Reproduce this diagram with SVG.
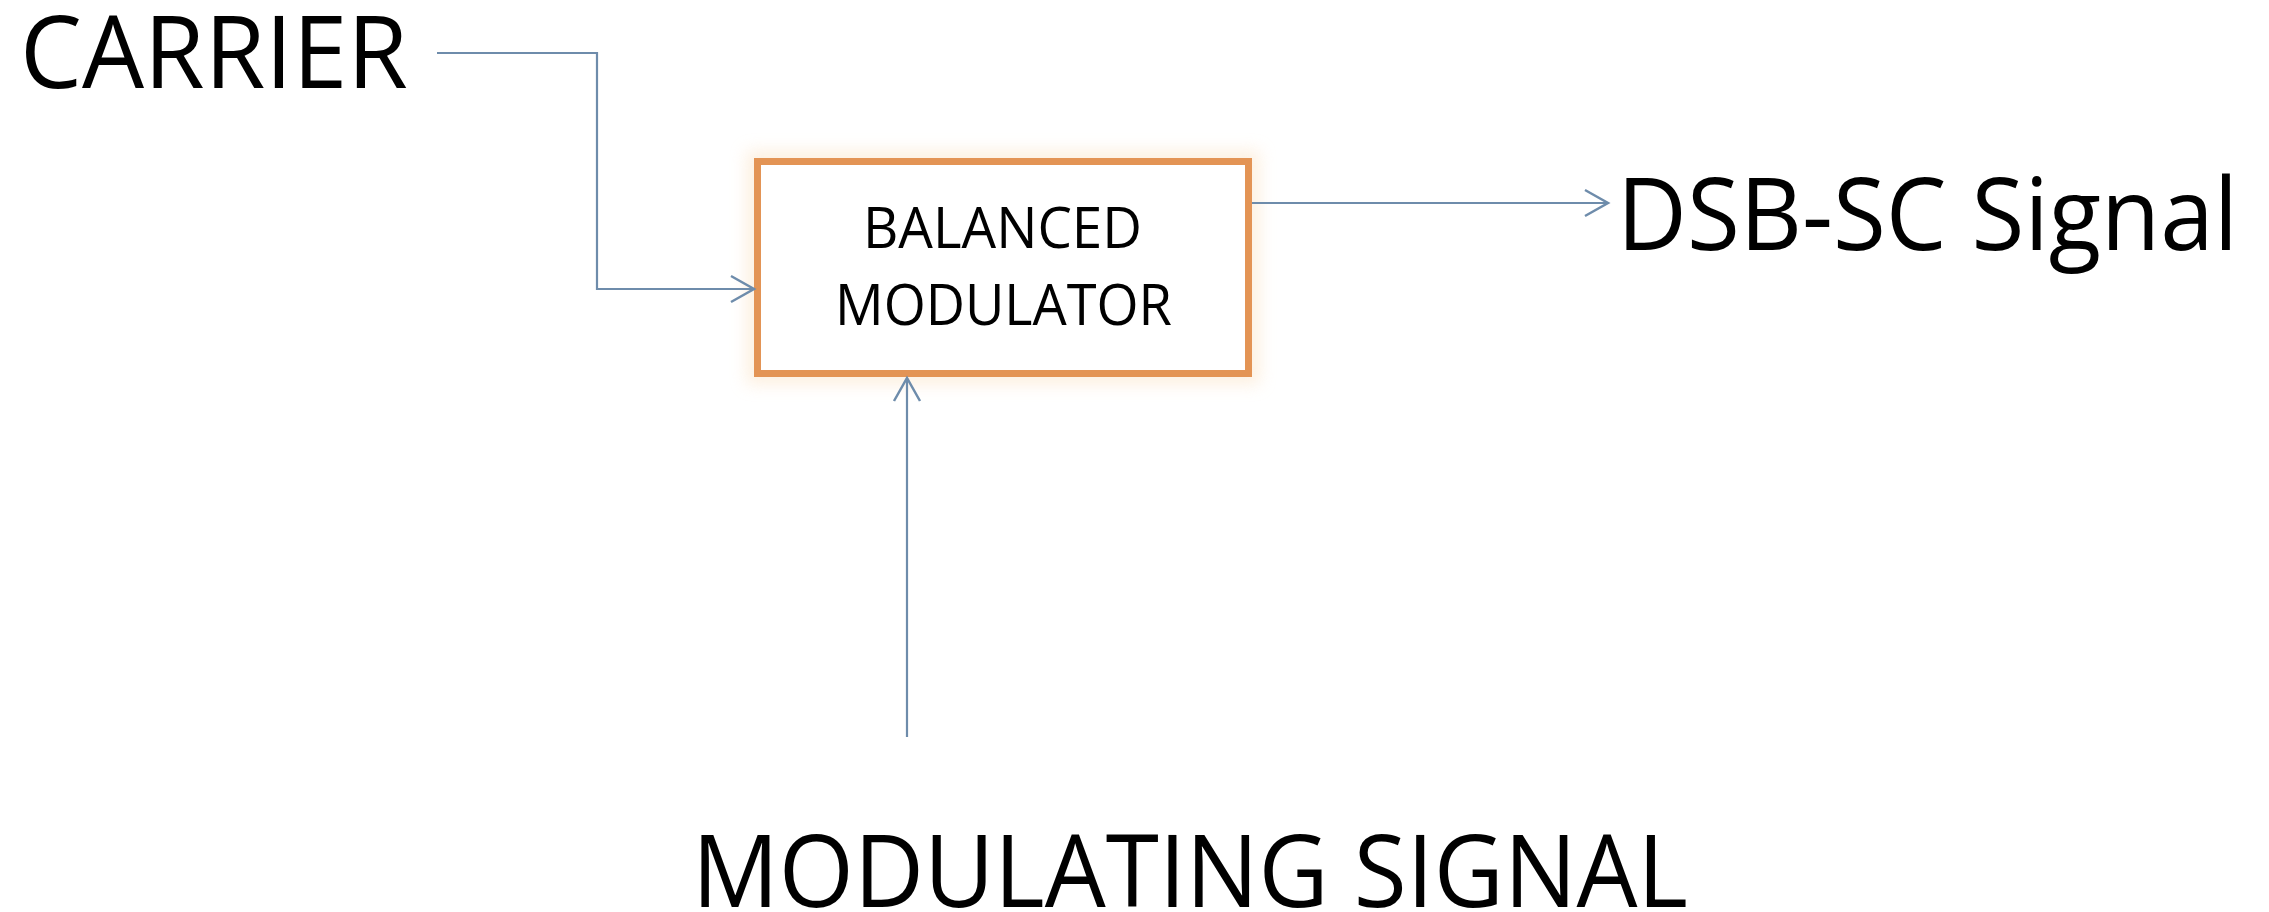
<svg xmlns="http://www.w3.org/2000/svg" width="2269" height="912" viewBox="0 0 2269 912">
  <style>
    .lbl { font-family: "Open Sans", "Liberation Sans", sans-serif; fill: #000000; }
    .big { font-size: 101px; }
    .small { font-size: 56px; }
    .conn { fill: none; stroke: #6E8CAB; stroke-width: 2.2; }
    .box { fill: #FFFFFF; stroke: #E39455; stroke-width: 7; }
  </style>
  <defs>
    <marker id="arrow" markerUnits="userSpaceOnUse" markerWidth="30" markerHeight="30" viewBox="-26 -15 30 30" refX="0" refY="0" orient="auto">
      <path d="M-23,-13 L0,0 L-23,13" fill="none" stroke="#6E8CAB" stroke-width="2.5"/>
    </marker>
    <filter id="glow" x="-10%" y="-20%" width="120%" height="140%">
      <feGaussianBlur stdDeviation="8"/>
    </filter>
  </defs>
  <rect width="2269" height="912" fill="#FFFFFF"/>

  <g id="carrier">
    <text class="lbl big" x="20" y="88" textLength="388" lengthAdjust="spacingAndGlyphs">CARRIER</text>
  </g>

  <g id="balanced-modulator">
    <rect x="757.5" y="161.5" width="491" height="212" fill="none" stroke="#FBE6CC" stroke-width="22" opacity="0.6" filter="url(#glow)"/>
    <rect class="box" x="757.5" y="161.5" width="491" height="212"/>
    <text class="lbl small" x="863" y="248" textLength="279" lengthAdjust="spacingAndGlyphs">BALANCED</text>
    <text class="lbl small" x="835" y="325" textLength="337" lengthAdjust="spacingAndGlyphs">MODULATOR</text>
  </g>

  <g id="dsb-sc-signal">
    <text class="lbl big" x="1617" y="250" textLength="621" lengthAdjust="spacingAndGlyphs">DSB-SC Signal</text>
  </g>

  <g id="modulating-signal">
    <text class="lbl big" x="692" y="907" textLength="996" lengthAdjust="spacingAndGlyphs">MODULATING SIGNAL</text>
  </g>

  <g id="connectors">
    <path class="conn" d="M437,53 H597 V289 H754" marker-end="url(#arrow)"/>
    <path class="conn" d="M1252,203 H1608" marker-end="url(#arrow)"/>
    <path class="conn" d="M907,737 V378" marker-end="url(#arrow)"/>
  </g>
</svg>
